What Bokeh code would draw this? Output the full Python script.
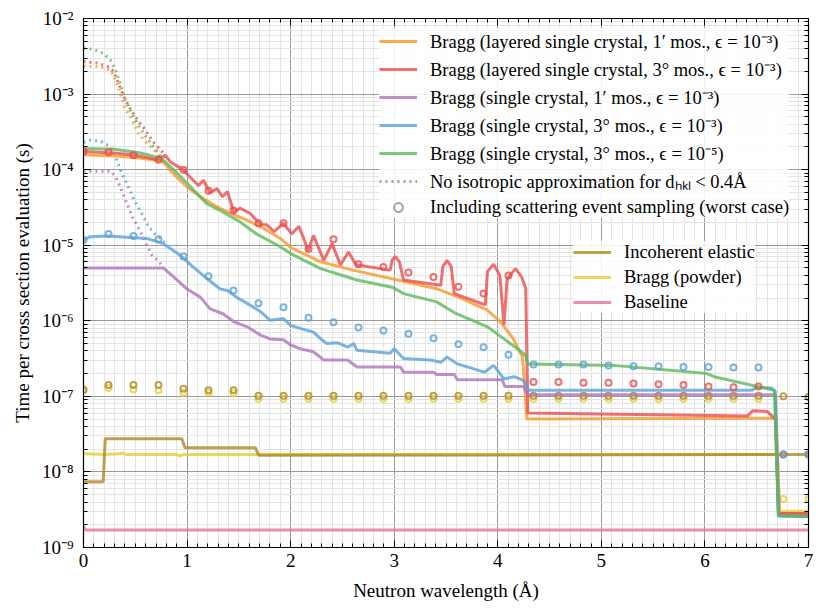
import numpy as np
from bokeh.plotting import figure
from bokeh.models import (FixedTicker, CustomJSTickFormatter, LinearAxis, LogAxis,
                          Legend, LegendItem, Range1d)
from bokeh.embed import file_html
from bokeh.resources import INLINE

# ---------------- data ----------------
ORANGE_X = [0.0, 0.30, 0.50, 0.72, 0.77, 0.90, 1.00, 1.13, 1.26, 1.42, 1.58, 1.77, 1.90, 2.00,
            2.29, 2.60, 3.00, 3.42, 3.61, 3.90, 4.03, 4.15, 4.24, 4.28, 6.69, 6.72, 7.00]
ORANGE_Y = [1.58e-4, 1.51e-4, 1.45e-4, 1.32e-4, 1.26e-4, 7.94e-5, 5.89e-5, 4.37e-5, 3.39e-5,
            2.63e-5, 2.14e-5, 1.58e-5, 1.23e-5, 9.33e-6, 6.03e-6, 4.68e-6, 3.55e-6, 2.63e-6,
            2.09e-6, 1.38e-6, 9.55e-7, 5.75e-7, 3.31e-7, 5.01e-8, 5.13e-8, 2.82e-9, 2.82e-9]

RED_X = [0.0, 0.30, 0.50, 0.72, 0.79, 0.84, 0.96, 1.03, 1.11, 1.16, 1.22, 1.29, 1.34, 1.39,
         1.45, 1.51, 1.61, 1.71, 1.77, 1.84, 1.93, 2.01, 2.08, 2.17, 2.22, 2.32, 2.40, 2.48,
         2.56, 2.63, 2.96, 2.98, 3.01, 3.05, 3.09, 3.45, 3.47, 3.51, 3.55, 3.58, 3.88, 3.90,
         3.96, 4.02, 4.06, 4.09, 4.17, 4.23, 4.27, 4.29, 6.41, 6.46, 6.60, 6.68, 6.71, 7.00]
RED_Y = [1.74e-4, 1.66e-4, 1.55e-4, 1.35e-4, 1.55e-4, 1.26e-4, 1.00e-4, 7.94e-5, 6.17e-5,
         7.24e-5, 4.90e-5, 5.62e-5, 4.37e-5, 5.13e-5, 2.75e-5, 3.09e-5, 2.63e-5, 1.86e-5,
         1.86e-5, 1.51e-5, 1.95e-5, 1.41e-5, 1.78e-5, 8.51e-6, 1.35e-5, 6.31e-6, 1.05e-5,
         5.50e-6, 8.13e-6, 5.50e-6, 4.68e-6, 6.31e-6, 7.08e-6, 6.03e-6, 3.47e-6, 2.95e-6,
         5.25e-6, 6.31e-6, 5.25e-6, 2.29e-6, 1.62e-6, 4.47e-6, 5.62e-6, 3.98e-6, 8.91e-7,
         3.55e-6, 4.90e-6, 3.80e-6, 2.69e-6, 6.03e-8, 5.50e-8, 6.46e-8, 6.31e-8, 5.01e-8,
         2.82e-9, 2.82e-9]

PURPLE_X = [0.0, 0.77, 0.87, 1.00, 1.13, 1.22, 1.35, 1.45, 1.58, 1.71, 1.80, 1.93, 2.00, 2.09,
            2.22, 2.32, 2.55, 2.64, 3.06, 3.09, 3.38, 3.41, 3.58, 3.61, 4.04, 4.07, 4.25, 4.29,
            6.68, 6.71, 7.00]
PURPLE_Y = [5.01e-6, 5.01e-6, 3.80e-6, 2.63e-6, 2.04e-6, 1.45e-6, 1.23e-6, 9.77e-7, 8.32e-7,
            6.46e-7, 5.75e-7, 5.62e-7, 4.79e-7, 4.27e-7, 3.89e-7, 3.02e-7, 3.02e-7, 2.45e-7,
            2.45e-7, 2.09e-7, 2.09e-7, 1.95e-7, 1.95e-7, 1.66e-7, 1.66e-7, 1.35e-7, 1.35e-7,
            1.05e-7, 1.05e-7, 2.63e-9, 2.57e-9]

BLUE_X = [0.0, 0.06, 0.23, 0.61, 0.77, 0.94, 1.06, 1.19, 1.32, 1.39, 1.48, 1.58, 1.71, 1.80,
          1.93, 2.00, 2.09, 2.22, 2.29, 2.35, 2.45, 2.55, 2.61, 2.64, 2.96, 3.00, 3.09, 3.35,
          3.45, 3.51, 3.61, 3.87, 3.96, 4.06, 4.16, 4.25, 4.30, 6.45, 6.50, 6.64, 6.68, 6.71,
          7.00]
BLUE_Y = [1.17e-5, 1.29e-5, 1.32e-5, 1.23e-5, 1.05e-5, 7.24e-6, 5.13e-6, 3.63e-6, 2.63e-6,
          2.51e-6, 2.04e-6, 1.70e-6, 1.32e-6, 1.02e-6, 1.07e-6, 8.71e-7, 7.94e-7, 7.08e-7,
          5.75e-7, 5.01e-7, 5.13e-7, 4.47e-7, 5.01e-7, 4.07e-7, 3.72e-7, 4.27e-7, 3.16e-7,
          3.02e-7, 2.82e-7, 3.31e-7, 2.69e-7, 2.09e-7, 2.57e-7, 1.70e-7, 1.82e-7, 1.62e-7,
          1.20e-7, 1.20e-7, 1.32e-7, 1.29e-7, 1.17e-7, 2.63e-9, 2.57e-9]

GREEN_X = [0.0, 0.30, 0.55, 0.75, 0.87, 1.00, 1.19, 1.32, 1.51, 1.67, 1.90, 2.00, 2.29, 2.64,
           2.99, 3.09, 3.41, 3.59, 3.90, 4.03, 4.12, 4.19, 4.27, 4.29, 5.12, 6.02, 6.09, 6.67,
           6.71, 7.00]
GREEN_Y = [1.91e-4, 1.86e-4, 1.66e-4, 1.41e-4, 1.00e-4, 6.61e-5, 3.55e-5, 2.88e-5, 2.04e-5,
           1.41e-5, 9.55e-6, 7.76e-6, 4.90e-6, 3.47e-6, 2.75e-6, 2.29e-6, 1.78e-6, 1.26e-6,
           8.32e-7, 6.17e-7, 5.01e-7, 4.27e-7, 3.47e-7, 2.69e-7, 2.57e-7, 2.00e-7, 1.82e-7,
           1.20e-7, 2.63e-9, 2.57e-9]

# dotted: no isotropic approximation for d_hkl < 0.4 AA
RED_DOT_X = [0.0, 0.13, 0.23, 0.29, 0.34, 0.39, 0.45, 0.52, 0.60, 0.66, 0.73, 0.79]
RED_DOT_Y = [2.69e-3, 2.57e-3, 2.34e-3, 2.00e-3, 1.38e-3, 9.12e-4, 6.46e-4, 4.57e-4, 3.31e-4,
             2.45e-4, 1.91e-4, 1.55e-4]
ORANGE_DOT_X = [0.0, 0.16, 0.26, 0.31, 0.36, 0.40, 0.47, 0.53, 0.61, 0.68, 0.76]
ORANGE_DOT_Y = [2.34e-3, 2.29e-3, 2.09e-3, 1.55e-3, 9.77e-4, 6.46e-4, 4.57e-4, 3.02e-4,
                2.24e-4, 1.82e-4, 1.32e-4]
GREEN_DOT_X = [0.0, 0.10, 0.19, 0.26, 0.31, 0.36, 0.40, 0.45, 0.52, 0.58, 0.65, 0.71, 0.76]
GREEN_DOT_Y = [4.07e-3, 3.89e-3, 3.47e-3, 2.82e-3, 2.09e-3, 1.32e-3, 8.71e-4, 6.17e-4,
               4.07e-4, 3.02e-4, 2.24e-4, 1.74e-4, 1.41e-4]
PURPLE_DOT_X = [0.0, 0.16, 0.26, 0.31, 0.36, 0.42, 0.48, 0.55, 0.61, 0.66, 0.73, 0.77]
PURPLE_DOT_Y = [9.55e-5, 9.55e-5, 9.55e-5, 8.13e-5, 5.62e-5, 3.55e-5, 2.24e-5, 1.51e-5,
                1.00e-5, 7.41e-6, 6.03e-6, 5.01e-6]
BLUE_DOT_X = [0.0, 0.06, 0.16, 0.26, 0.32, 0.37, 0.44, 0.50, 0.57, 0.63, 0.69, 0.76, 0.81]
BLUE_DOT_Y = [2.29e-4, 2.45e-4, 2.40e-4, 2.00e-4, 1.35e-4, 8.91e-5, 5.62e-5, 3.72e-5,
              2.51e-5, 1.74e-5, 1.41e-5, 1.17e-5, 1.00e-5]

INCOH_X = [0.0, 0.19, 0.21, 0.95, 0.98, 1.66, 1.69, 7.00]
INCOH_Y = [7.41e-9, 7.41e-9, 2.75e-8, 2.75e-8, 2.09e-8, 2.09e-8, 1.66e-8, 1.70e-8]

POWDER_X = [0.0, 0.20, 0.35, 0.38, 0.41, 0.90, 0.93, 0.96, 6.70, 6.72, 7.00]
POWDER_Y = [1.74e-8, 1.70e-8, 1.74e-8, 1.78e-8, 1.70e-8, 1.70e-8, 1.62e-8, 1.70e-8, 1.70e-8,
            3.02e-9, 3.02e-9]

BASE_X = [0.0, 0.02, 7.00]
BASE_Y = [1.91e-9, 1.70e-9, 1.70e-9]

# markers: including scattering event sampling (worst case), 30 wavelengths 0..7
MARK_X = list(np.linspace(0.0, 7.0, 30))
RED_M = [1.74e-4, 1.70e-4, 1.55e-4, 1.35e-4, 1.00e-4, 5.25e-5, 2.88e-5, 1.95e-5, 1.95e-5,
         8.91e-6, 1.20e-5, 5.62e-6, 5.13e-6, 4.37e-6, 3.80e-6, 2.82e-6, 2.29e-6, 3.98e-6,
         1.55e-7, 1.55e-7, 1.51e-7, 1.51e-7, 1.48e-7, 1.45e-7, 1.41e-7, 1.35e-7, 1.32e-7,
         1.35e-7, 1.70e-8, 1.70e-8]
BLUE_M = [1.17e-5, 1.41e-5, 1.32e-5, 1.20e-5, 7.08e-6, 3.89e-6, 2.51e-6, 1.70e-6, 1.51e-6,
          1.10e-6, 9.55e-7, 8.13e-7, 7.41e-7, 6.76e-7, 5.89e-7, 4.90e-7, 4.47e-7, 3.55e-7,
          2.63e-7, 2.63e-7, 2.63e-7, 2.57e-7, 2.51e-7, 2.51e-7, 2.45e-7, 2.45e-7, 2.40e-7,
          2.40e-7, 1.70e-8, 1.70e-8]
INCOH_M = [1.20e-7, 1.41e-7, 1.41e-7, 1.41e-7, 1.26e-7, 1.20e-7, 1.20e-7, 1.02e-7, 1.02e-7,
           1.02e-7, 1.02e-7, 1.02e-7, 1.02e-7, 1.02e-7, 1.02e-7, 1.02e-7, 1.02e-7, 1.02e-7,
           1.02e-7, 1.02e-7, 1.02e-7, 1.02e-7, 1.02e-7, 1.02e-7, 1.02e-7, 1.02e-7, 1.02e-7,
           1.02e-7, 1.00e-7, 9.77e-8]
POWDER_M = [1.26e-7, 1.29e-7, 1.23e-7, 1.20e-7, 1.12e-7, 1.12e-7, 1.10e-7, 9.33e-8, 9.33e-8,
            9.33e-8, 9.33e-8, 9.33e-8, 9.33e-8, 9.33e-8, 9.33e-8, 9.33e-8, 9.33e-8, 9.33e-8,
            9.33e-8, 9.33e-8, 9.33e-8, 9.33e-8, 9.33e-8, 9.33e-8, 9.33e-8, 9.33e-8, 9.33e-8,
            9.33e-8, 4.37e-9, 4.37e-9]

LABELS_TOP = ["Bragg (layered single crystal, 1\u2032 mos., \u03f5 = 10\u207b\u00b3)",
              "Bragg (layered single crystal, 3\u00b0 mos., \u03f5 = 10\u207b\u00b3)",
              "Bragg (single crystal, 1\u2032 mos., \u03f5 = 10\u207b\u00b3)",
              "Bragg (single crystal, 3\u00b0 mos., \u03f5 = 10\u207b\u00b3)",
              "Bragg (single crystal, 3\u00b0 mos., \u03f5 = 10\u207b\u2075)",
              "No isotropic approximation for d\u2095\u2096\u2097 < 0.4\u00c5",
              "Including scattering event sampling (worst case)"]
LABELS_BOTTOM = ["Incoherent elastic", "Bragg (powder)", "Baseline"]

X_TICKS = [0, 1, 2, 3, 4, 5, 6, 7]
Y_TICKS = [1e-9, 1e-8, 1e-7, 1e-6, 1e-5, 1e-4, 1e-3, 1e-2]

# ---------------- styling ----------------
C_ORANGE = "#f89927"
C_RED = "#ea4c4c"
C_PURPLE = "#af73ba"
C_BLUE = "#59a1d8"
C_GREEN = "#5cb859"
C_OLIVE = "#af8824"
C_YELLOW = "#e2ce38"
C_PINK = "#e27492"
C_GREY = "#8a8a8a"
ALPHA = 0.8
LW = 3
SERIF = "Liberation Serif"

p = figure(width=815, height=605, x_range=Range1d(0, 7), y_range=Range1d(1e-9, 1e-2),
           y_axis_type="log", output_backend="svg", toolbar_location=None,
           min_border_left=83, min_border_right=7, min_border_top=18, min_border_bottom=58)
p.outline_line_color = "black"
p.outline_line_width = 1.2
p.background_fill_color = "white"
p.border_fill_color = "white"

bottom_ax = p.below[0]
left_ax = p.left[0]

x_minor = [round(0.1 * k, 1) for k in range(0, 71) if k % 10 != 0]
y_minor = [m * 10.0 ** e for e in range(-9, -2) for m in range(2, 10)]
xt = FixedTicker(ticks=X_TICKS, minor_ticks=x_minor)
yt = FixedTicker(ticks=Y_TICKS, minor_ticks=y_minor)

sup_code = """
const e = Math.round(Math.log10(tick));
const sup = {'-':'\u207b','0':'\u2070','1':'\u00b9','2':'\u00b2','3':'\u00b3','4':'\u2074',
             '5':'\u2075','6':'\u2076','7':'\u2077','8':'\u2078','9':'\u2079'};
return '10' + String(e).split('').map(c => sup[c]).join('');
"""

bottom_ax.ticker = xt
left_ax.ticker = yt
left_ax.formatter = CustomJSTickFormatter(code=sup_code)

top_ax = LinearAxis(ticker=xt, formatter=CustomJSTickFormatter(code="return ''"))
right_ax = LogAxis(ticker=yt, formatter=CustomJSTickFormatter(code="return ''"))
p.add_layout(top_ax, "above")
p.add_layout(right_ax, "right")

for ax in [bottom_ax, left_ax, top_ax, right_ax]:
    ax.major_tick_in = 7
    ax.major_tick_out = 0
    ax.minor_tick_in = 4
    ax.minor_tick_out = 0
    ax.axis_line_color = "black"
    ax.major_tick_line_color = "black"
    ax.minor_tick_line_color = "black"
    ax.major_label_text_font = SERIF
    ax.major_label_text_font_size = "19px"
    ax.major_label_text_color = "black"
for ax in [top_ax, right_ax]:
    ax.major_label_text_font_size = "1px"
    ax.major_label_standoff = 0

bottom_ax.axis_label = "Neutron wavelength (\u00c5)"
left_ax.axis_label = "Time per cross section evaluation (s)"
for ax in [bottom_ax, left_ax]:
    ax.axis_label_text_font = SERIF
    ax.axis_label_text_font_size = "19px"
    ax.axis_label_text_font_style = "normal"
    ax.axis_label_text_color = "black"
bottom_ax.major_label_standoff = 6
bottom_ax.axis_label_standoff = 10
left_ax.major_label_standoff = 10
left_ax.axis_label_standoff = 6

p.xgrid.ticker = xt
p.ygrid.ticker = yt
for g in [p.xgrid[0], p.ygrid[0]]:
    g.grid_line_color = "#9a9a9a"
    g.grid_line_width = 1
    g.minor_grid_line_color = "#e4e4e4"
    g.minor_grid_line_width = 1

# lower group
r_base = p.line(BASE_X, BASE_Y, line_color=C_PINK, line_width=LW, line_alpha=ALPHA)
r_pow = p.line(POWDER_X, POWDER_Y, line_color=C_YELLOW, line_width=LW, line_alpha=ALPHA)
r_inc = p.line(INCOH_X, INCOH_Y, line_color=C_OLIVE, line_width=LW, line_alpha=ALPHA)

def mk(xs, ys, c, size=6):
    return p.scatter(xs, ys, marker="circle", size=size, fill_color=None, line_color=c,
                     line_width=2, line_alpha=ALPHA)

mk(MARK_X, POWDER_M, C_YELLOW)
mk(MARK_X, INCOH_M, C_OLIVE)

# dotted
for xs, ys, c in [(ORANGE_DOT_X, ORANGE_DOT_Y, C_ORANGE), (RED_DOT_X, RED_DOT_Y, C_RED),
                  (PURPLE_DOT_X, PURPLE_DOT_Y, C_PURPLE), (BLUE_DOT_X, BLUE_DOT_Y, C_BLUE),
                  (GREEN_DOT_X, GREEN_DOT_Y, C_GREEN)]:
    p.line(xs, ys, line_color=c, line_width=LW, line_alpha=ALPHA, line_dash="2 4")

r_or = p.line(ORANGE_X, ORANGE_Y, line_color=C_ORANGE, line_width=LW, line_alpha=ALPHA)
r_red = p.line(RED_X, RED_Y, line_color=C_RED, line_width=LW, line_alpha=ALPHA)
r_pur = p.line(PURPLE_X, PURPLE_Y, line_color=C_PURPLE, line_width=LW, line_alpha=ALPHA)
r_blu = p.line(BLUE_X, BLUE_Y, line_color=C_BLUE, line_width=LW, line_alpha=ALPHA)
r_grn = p.line(GREEN_X, GREEN_Y, line_color=C_GREEN, line_width=LW, line_alpha=ALPHA)

mk(MARK_X, RED_M, C_RED)
mk(MARK_X, BLUE_M, C_BLUE)

# legend proxies (placed outside the visible x range so only the legend shows them)
PROXY_X = [-2.0, -1.0]
PROXY_Y = [1e-5, 1e-5]
r_dot = p.line(PROXY_X, PROXY_Y, line_color=C_GREY, line_width=LW, line_alpha=ALPHA,
               line_dash="2 4")
r_mk = mk(PROXY_X, PROXY_Y, C_GREY, size=5)

def style_legend(lg, spacing):
    lg.label_text_font = SERIF
    lg.label_text_font_size = "18.5px"
    lg.label_text_color = "black"
    lg.glyph_width = 38
    lg.glyph_height = 22
    lg.label_height = 22
    lg.spacing = spacing
    lg.padding = 8
    lg.margin = 0
    lg.label_standoff = 13
    lg.background_fill_color = "white"
    lg.background_fill_alpha = 0.85
    lg.border_line_color = None

lg1 = Legend(items=[LegendItem(label=LABELS_TOP[0], renderers=[r_or]),
                    LegendItem(label=LABELS_TOP[1], renderers=[r_red]),
                    LegendItem(label=LABELS_TOP[2], renderers=[r_pur]),
                    LegendItem(label=LABELS_TOP[3], renderers=[r_blu]),
                    LegendItem(label=LABELS_TOP[4], renderers=[r_grn]),
                    LegendItem(label=LABELS_TOP[5], renderers=[r_dot]),
                    LegendItem(label=LABELS_TOP[6], renderers=[r_mk])],
             location=(296, 329))
style_legend(lg1, 3)
lg2 = Legend(items=[LegendItem(label=LABELS_BOTTOM[0], renderers=[r_inc]),
                    LegendItem(label=LABELS_BOTTOM[1], renderers=[r_pow]),
                    LegendItem(label=LABELS_BOTTOM[2], renderers=[r_base])],
             location=(490, 234))
style_legend(lg2, 3)
p.add_layout(lg1, "center")
p.add_layout(lg2, "center")

open("out.html", "w").write(file_html(p, INLINE))
